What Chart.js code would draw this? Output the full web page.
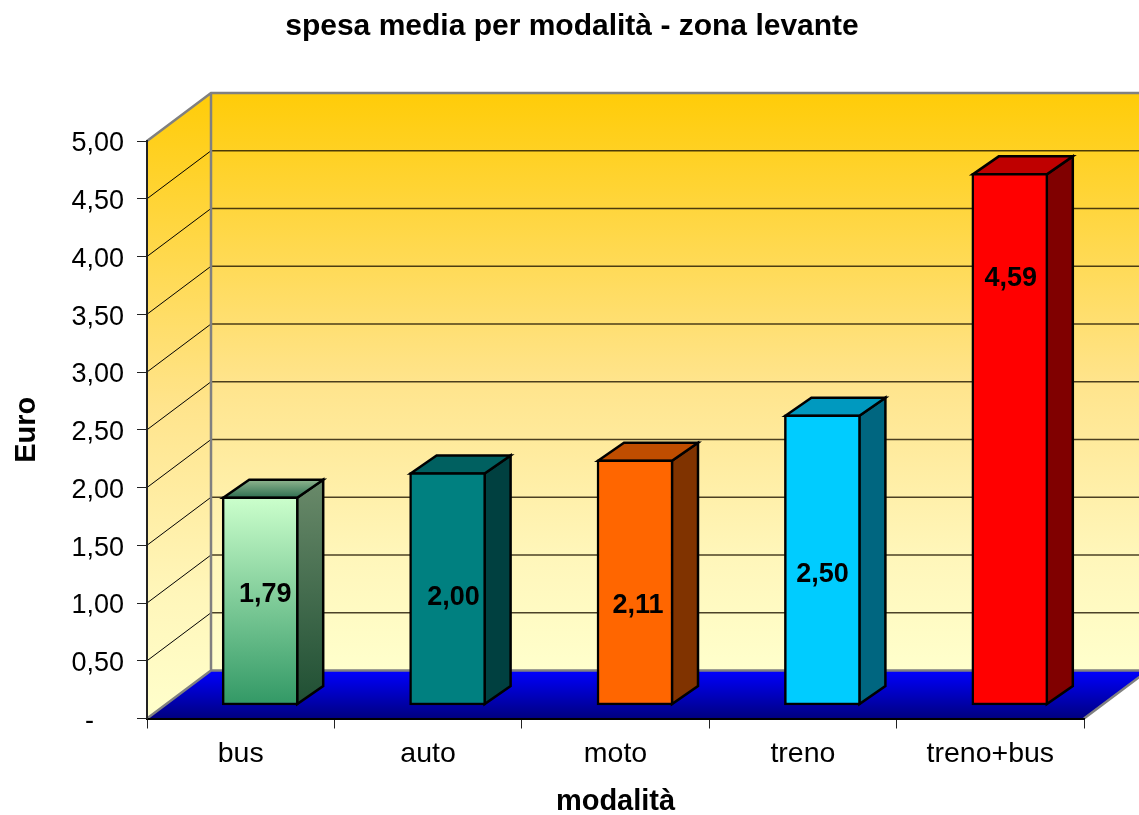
<!DOCTYPE html>
<html><head><meta charset="utf-8">
<style>html,body{margin:0;padding:0;background:#fff}canvas{display:block}</style>
<script src="https://cdn.jsdelivr.net/npm/chart.js@4"></script>
</head><body><canvas id="c" width="1139" height="815"></canvas>
<script>
const categories = ['bus','auto','moto','treno','treno+bus'];
const values = [1.79,2.00,2.11,2.50,4.59];
const valueLabels = ['1,79','2,00','2,11','2,50','4,59'];
const frontColors = ['#CCFFCC','#008080','#FF6600','#00CCFF','#FF0000'];
const sideColors = ['#668066','#004040','#803300','#006680','#800000'];
const topColors = ['#99BF99','#006060','#BF4D00','#0099BF','#BF0000'];
const labelHeights = [1.07,1.05,0.98,1.25,3.81];
const labelShifts = [5,6,3,0,1];

const FONT = '"Liberation Sans", Arial, sans-serif';
const WALL = {dx:64, dy:-48};
const BAR = {dx:19.5, dy:-15, depthX:26, depthY:-18};
let busGradient = frontColors[0];

const threeD = {
  id:'threeD',
  afterLayout(chart){
    chart.titleBlock.left += 30; chart.titleBlock.right += 30;
    const y=chart.scales.y;
    const g=chart.ctx.createLinearGradient(0,y.getPixelForValue(values[0]),0,y.getPixelForValue(0));
    g.addColorStop(0,'#CCFFCC');g.addColorStop(1,'#339966');
    busGradient=g;
  },
  beforeDraw(chart){
    const {ctx, chartArea:a, scales:{y}} = chart;
    const L=a.left,R=a.right,T=a.top,B=a.bottom,dx=WALL.dx,dy=WALL.dy;
    const stops=(g)=>{
      g.addColorStop(0,'#FFCC08'); g.addColorStop(0.5,'#FFE48C');
      g.addColorStop(0.8,'#FFF6BA'); g.addColorStop(1,'#FFFFCC');
    };
    ctx.save();
    const g = ctx.createLinearGradient(0,T+dy,0,B+dy); stops(g);
    const gl = ctx.createLinearGradient(0,T+dy,0,B); stops(gl);
    // back wall
    ctx.fillStyle=g; ctx.fillRect(L+dx,T+dy,chart.width-L-dx,B-T);
    // left wall
    ctx.fillStyle=gl; ctx.beginPath();
    ctx.moveTo(L,T);ctx.lineTo(L+dx,T+dy);ctx.lineTo(L+dx,B+dy);ctx.lineTo(L,B);ctx.closePath();ctx.fill();
    // floor
    const f = ctx.createLinearGradient(0,B+dy,0,B);
    f.addColorStop(0,'#0000FF'); f.addColorStop(1,'#000080');
    ctx.fillStyle=f; ctx.beginPath();
    ctx.moveTo(L,B);ctx.lineTo(L+dx,B+dy);ctx.lineTo(R+dx,B+dy);ctx.lineTo(R,B);ctx.closePath();ctx.fill();
    // grid lines
    y.ticks.forEach(t=>{
      const p=y.getPixelForValue(t.value);
      if(t.value===0||t.value>=5) return;
      ctx.strokeStyle='#000';ctx.lineWidth=1;
      ctx.beginPath();ctx.moveTo(L,p);ctx.lineTo(L+dx,p+dy);ctx.stroke();
      ctx.strokeStyle='rgba(30,20,0,.8)';ctx.lineWidth=1.5;
      ctx.beginPath();ctx.moveTo(L+dx,p+dy);ctx.lineTo(chart.width,p+dy);ctx.stroke();
    });
    // grey frame
    ctx.strokeStyle='#808080';ctx.lineWidth=2.5;
    ctx.beginPath();
    ctx.moveTo(L,T);ctx.lineTo(L+dx,T+dy);ctx.lineTo(chart.width,T+dy);
    ctx.moveTo(L+dx,T+dy);ctx.lineTo(L+dx,B+dy);ctx.lineTo(chart.width,B+dy);
    ctx.moveTo(L+dx,B+dy);ctx.lineTo(L,B);
    ctx.moveTo(R,B);ctx.lineTo(R+dx,B+dy);
    ctx.stroke();
    ctx.restore();
  },
  beforeDatasetDraw(chart,args){
    const ctx=chart.ctx;
    ctx.save();
    ctx.translate(BAR.dx,BAR.dy);
    args.meta.data.forEach((el,i)=>{
      const {x,y,base,width}=el.getProps(['x','y','base','width'],true);
      const l=x-width/2+1,r=x+width/2-1,t=y+1,b=base-1,dx=BAR.depthX,dy=BAR.depthY;
      let side=sideColors[i], top=topColors[i];
      if(i===0){
        side=ctx.createLinearGradient(0,t+dy,0,b);
        side.addColorStop(0,'#6A8A6A');side.addColorStop(1,'#1F4F33');
        top=ctx.createLinearGradient(0,t+dy,0,t);
        top.addColorStop(0,'#8FB58F');top.addColorStop(1,'#2E6E50');
      }
      ctx.strokeStyle='#000';ctx.lineWidth=2.5;ctx.lineJoin='miter';
      ctx.fillStyle=side;ctx.beginPath();
      ctx.moveTo(r,t);ctx.lineTo(r+dx,t+dy);ctx.lineTo(r+dx,b+dy);ctx.lineTo(r,b);ctx.closePath();ctx.fill();ctx.stroke();
      ctx.fillStyle=top;ctx.beginPath();
      ctx.moveTo(l,t);ctx.lineTo(l+dx,t+dy);ctx.lineTo(r+dx,t+dy);ctx.lineTo(r,t);ctx.closePath();ctx.fill();ctx.stroke();
    });
  },
  afterDatasetDraw(chart){ chart.ctx.restore(); },
  afterDatasetsDraw(chart){
    const {ctx,scales:{x,y}}=chart;
    ctx.save();
    ctx.font='bold 27px '+FONT;ctx.fillStyle='#000';ctx.textAlign='center';ctx.textBaseline='middle';
    valueLabels.forEach((s,i)=>{
      ctx.fillText(s,x.getPixelForValue(i)+BAR.dx+labelShifts[i],y.getPixelForValue(labelHeights[i]));
    });
    ctx.restore();
  }
};

new Chart(document.getElementById('c'),{
  type:'bar',
  data:{labels:categories,datasets:[{
    data:values,
    base:-0.013,
    clip:false,
    barThickness:76,
    borderColor:'#000',borderWidth:2.5,borderSkipped:false,
    backgroundColor(c){
      return c.dataIndex===0 ? busGradient : frontColors[c.dataIndex];
    }
  }]},
  plugins:[threeD],
  options:{
    responsive:false,animation:false,
    layout:{padding:{right:55}},
    plugins:{
      legend:{display:false},tooltip:{enabled:false},
      title:{display:true,text:'spesa media per modalità - zona levante',color:'#000',
        font:{family:FONT,size:30,weight:'bold'},padding:{top:9,bottom:96}}
    },
    scales:{
      x:{
        afterFit(s){s.height=96.5;},
        border:{color:'#000',width:2},
        grid:{display:true,drawOnChartArea:false,drawTicks:true,tickLength:10,color:'#222',offset:true},
        ticks:{color:'#000',padding:9,maxRotation:0,font:{family:FONT,size:28.5}},
        title:{display:true,text:'modalità',color:'#000',font:{family:FONT,size:29,weight:'bold'},padding:{top:0,bottom:-4.5}}
      },
      y:{
        min:0,max:5,
        afterFit(s){s.width=147;},
        border:{color:'#222',width:2},
        grid:{display:true,drawOnChartArea:false,drawTicks:true,tickLength:10,color:'#222'},
        ticks:{stepSize:0.5,color:'#000',padding:13,labelOffset:3,font:{family:FONT,size:27},
          callback(v){return v===0?'-\u00A0\u00A0\u00A0\u00A0':v.toFixed(2).replace('.',',');}},
        title:{display:true,text:'Euro',color:'#000',font:{family:FONT,size:29,weight:'bold'},padding:{top:10,bottom:0}}
      }
    }
  }
});
</script></body></html>
